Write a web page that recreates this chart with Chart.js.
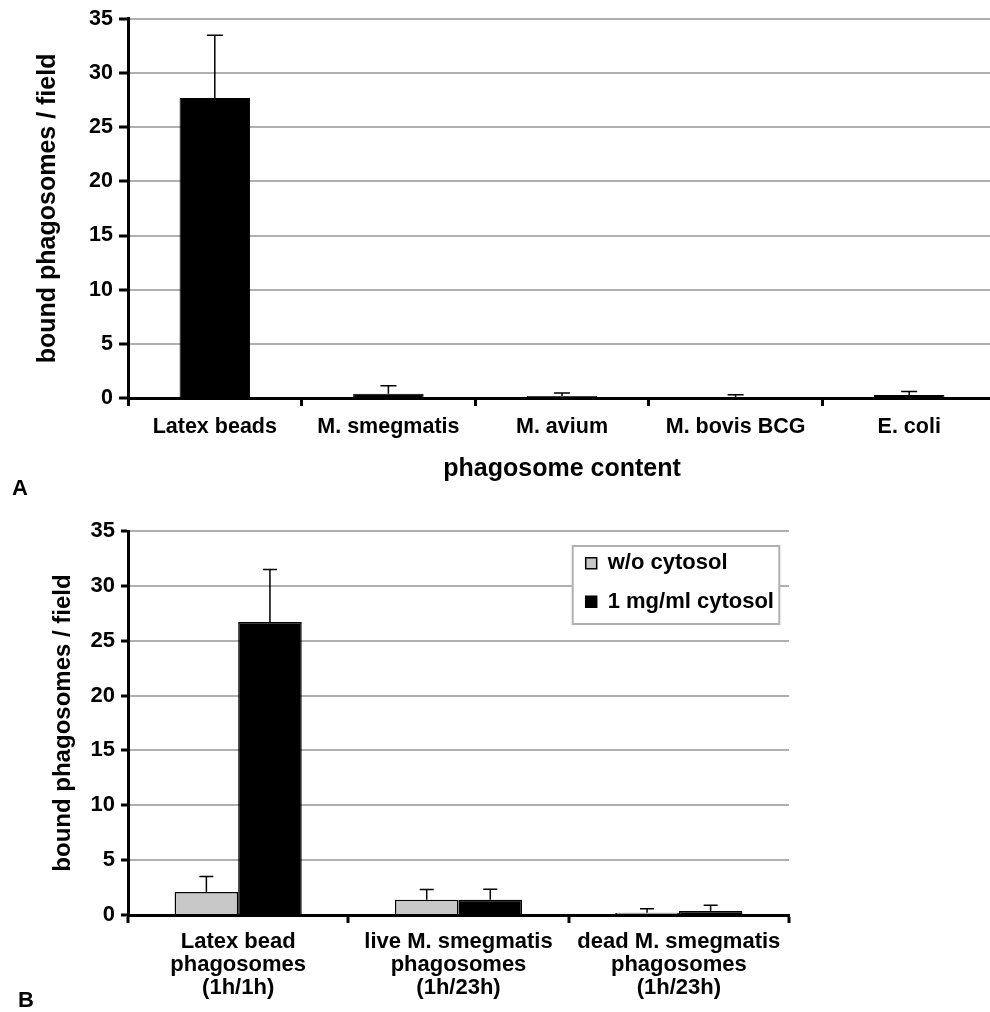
<!DOCTYPE html>
<html>
<head>
<meta charset="utf-8">
<script src="https://cdn.jsdelivr.net/npm/chart.js@4.4.1/dist/chart.umd.min.js"></script>
<style>
    html, body { margin: 0; padding: 0; background: #fff; overflow: hidden; }
    #page { position: relative; width: 990px; height: 1012px; overflow: hidden; }
    canvas { position: absolute; left: 0; }
    #chartA { top: 0; }
    #chartB { top: 505px; }
    .panel-label {
        position: absolute;
        font: bold 22px "Liberation Sans", Arial, sans-serif;
        line-height: 22px;
        color: #000;
    }
</style>
</head>
<body>
<div id="page">
    <canvas id="chartA" width="1000" height="505"></canvas>
    <canvas id="chartB" width="1000" height="507"></canvas>
    <div class="panel-label" style="left:12px; top:477px;">A</div>
    <div class="panel-label" style="left:18px; top:989px;">B</div>
</div>
<script>
// Panel A data
const contentLabels = ['Latex beads', 'M. smegmatis', 'M. avium', 'M. bovis BCG', 'E. coli'];
const boundValues = [27.7, 0.4, 0.18, 0.09, 0.28];
const boundErrors = [5.8, 0.74, 0.28, 0.22, 0.33];

// Panel B data
const phagosomeLabels = [
    ['Latex bead', 'phagosomes', '(1h/1h)'],
    ['live M. smegmatis', 'phagosomes', '(1h/23h)'],
    ['dead M. smegmatis', 'phagosomes', '(1h/23h)']
];
const seriesNames = ['w/o cytosol', '1 mg/ml cytosol'];
const withoutCytosol = [2.1, 1.4, 0.2];
const withoutCytosolErr = [1.4, 0.92, 0.37];
const withCytosol = [26.7, 1.4, 0.36];
const withCytosolErr = [4.8, 0.94, 0.52];

const yTicks = { min: 0, max: 35, step: 5 };

const FONT = '"Liberation Sans", Arial, sans-serif';
const GRID_GREY = '#b0b0b0';

Chart.defaults.font.family = FONT;
Chart.defaults.font.weight = 'bold';
Chart.defaults.color = '#000';

// Upper error bars drawn from the bar elements and the y scale
const errorBars = {
    id: 'errorBars',
    afterDatasetsDraw(chart, args, opts) {
        const ctx = chart.ctx;
        const yScale = chart.scales.y;
        ctx.save();
        ctx.strokeStyle = '#000';
        ctx.lineWidth = 1.5;
        chart.data.datasets.forEach((ds, i) => {
            const meta = chart.getDatasetMeta(i);
            meta.data.forEach((bar, j) => {
                const top = yScale.getPixelForValue(ds.data[j] + ds.errors[j]);
                ctx.beginPath();
                ctx.moveTo(bar.x, bar.y);
                ctx.lineTo(bar.x, top);
                ctx.moveTo(bar.x - opts.cap, top);
                ctx.lineTo(bar.x + opts.cap, top);
                ctx.stroke();
            });
        });
        ctx.restore();
    }
};

// Move the legend into the top right corner of the plot and give it a framed white box
const legendFrame = {
    id: 'legendFrame',
    afterLayout(chart) {
        const lg = chart.legend;
        const area = chart.chartArea;
        lg.left = area.right - 219.7;
        lg.top = area.top + 4.9;
        lg.right = lg.left + 210;
        lg.bottom = lg.top + 120;
    },
    afterDatasetsDraw(chart) {
        const ctx = chart.ctx;
        const area = chart.chartArea;
        const x = area.right - 216.3, y = area.top + 15;
        ctx.save();
        ctx.fillStyle = '#fff';
        ctx.fillRect(x, y, 206.6, 78);
        ctx.strokeStyle = GRID_GREY;
        ctx.lineWidth = 2;
        ctx.strokeRect(x, y, 206.6, 78);
        ctx.restore();
        chart.legend.draw();
    }
};

function yGridColor(c) {
    return c.tick && c.tick.value === 0 ? 'rgba(0,0,0,0)' : GRID_GREY;
}

function yScaleOptions(tickSize, tickLen, titleSize, titlePad, width) {
    return {
        min: yTicks.min,
        max: yTicks.max,
        ticks: { stepSize: yTicks.step, font: { size: tickSize }, padding: 6, color: '#000' },
        grid: { color: yGridColor, lineWidth: 2, tickColor: '#000', tickWidth: 3, tickLength: tickLen },
        border: { color: '#000', width: 3 },
        title: {
            display: true,
            text: 'bound phagosomes / field',
            font: { size: titleSize },
            color: '#000',
            padding: { top: titlePad, bottom: 0 }
        },
        afterFit: s => { s.width = width; }
    };
}

function renderPanelA() {
    const ctx = document.getElementById('chartA').getContext('2d');
    new Chart(ctx, {
        type: 'bar',
        data: {
            labels: contentLabels,
            datasets: [{
                label: 'bound phagosomes / field',
                data: boundValues,
                errors: boundErrors,
                backgroundColor: '#000',
                borderColor: '#000',
                borderWidth: 1,
                categoryPercentage: 1,
                barPercentage: 0.406
            }]
        },
        options: {
            responsive: false,
            animation: false,
            layout: { padding: { top: 17, right: 4, left: 0, bottom: 0 } },
            plugins: {
                legend: { display: false },
                tooltip: { enabled: false },
                errorBars: { cap: 8 }
            },
            scales: {
                x: {
                    grid: { offset: true, color: 'rgba(0,0,0,0)', tickColor: '#000', tickWidth: 3, tickLength: 8 },
                    border: { color: '#000', width: 3 },
                    ticks: { font: { size: 21.5 }, padding: 8, color: '#000', autoSkip: false, maxRotation: 0 },
                    title: {
                        display: true,
                        text: 'phagosome content',
                        font: { size: 25 },
                        color: '#000',
                        padding: { top: 0, bottom: 21 }
                    },
                    afterFit: s => { s.height = 107; }
                },
                y: yScaleOptions(21.5, 9, 25, 33.3, 128)
            }
        },
        plugins: [errorBars]
    });
}

function renderPanelB() {
    const ctx = document.getElementById('chartB').getContext('2d');
    const lastLine = phagosomeLabels.length;
    new Chart(ctx, {
        type: 'bar',
        data: {
            labels: phagosomeLabels,
            datasets: [{
                label: seriesNames[0],
                data: withoutCytosol,
                errors: withoutCytosolErr,
                backgroundColor: '#c8c8c8',
                borderColor: '#000',
                borderWidth: 1.5,
                categoryPercentage: 0.577,
                barPercentage: 1
            }, {
                label: seriesNames[1],
                data: withCytosol,
                errors: withCytosolErr,
                backgroundColor: '#000',
                borderColor: '#000',
                borderWidth: 1.5,
                categoryPercentage: 0.577,
                barPercentage: 1
            }]
        },
        options: {
            responsive: false,
            animation: false,
            layout: { padding: { top: 26, right: 211, left: 0, bottom: 0 } },
            plugins: {
                legend: {
                    position: 'chartArea',
                    align: 'start',
                    labels: {
                        boxWidth: 11,
                        boxHeight: 11,
                        padding: 16.4,
                        color: '#000',
                        font: { size: 22, weight: 'bold' }
                    }
                },
                tooltip: { enabled: false },
                errorBars: { cap: 7 }
            },
            scales: {
                x: {
                    grid: {
                        offset: true,
                        color: c => c.index === lastLine ? GRID_GREY : 'rgba(0,0,0,0)',
                        lineWidth: 2,
                        tickColor: '#000',
                        tickWidth: 3,
                        tickLength: 8
                    },
                    border: { color: '#000', width: 3 },
                    ticks: { font: { size: 22, lineHeight: 1.06 }, padding: 7, color: '#000', autoSkip: false, maxRotation: 0 },
                    afterFit: s => { s.height = 97; }
                },
                y: yScaleOptions(22, 7, 24, 49.1, 128)
            }
        },
        plugins: [errorBars, legendFrame]
    });
}

renderPanelA();
renderPanelB();
</script>
</body>
</html>
